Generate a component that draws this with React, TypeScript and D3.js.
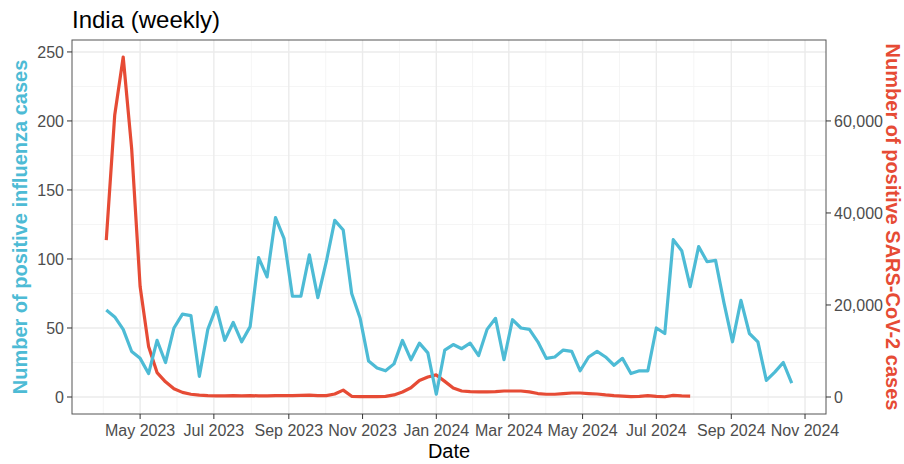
import * as d3 from "d3";

// weekly series, first week starting 2023-04-03
const firstWeek = "2023-04-03";

// positive influenza cases per week (left axis)
const fluCases = [
  63, 58, 49, 33, 28, 17, 41, 25, 50, 60, 59, 15, 49, 65, 41, 54, 40, 51, 101, 87,
  130, 115, 73, 73, 103, 72, 98, 128, 121, 75, 57, 26, 21, 19, 24, 41, 27, 39, 32, 2,
  34, 38, 35, 39, 30, 49, 57, 27, 56, 50, 49, 40, 28, 29, 34, 33, 19, 29, 33, 29,
  23, 28, 17, 19, 19, 50, 46, 114, 106, 80, 109, 98, 99, 68, 40, 70, 46, 40, 12, 18,
  25, 10,
];

// positive SARS-CoV-2 cases per week (right axis)
const covidCases = [
  34100, 61300, 73900, 54000, 24000, 11000, 5300, 3300, 1800, 1000, 600, 400, 300, 250,
  250, 300, 250, 300, 250, 250, 300, 300, 300, 350, 400, 300, 300, 650, 1500, 150,
  100, 100, 100, 150, 450, 1100, 2000, 3600, 4350, 4800, 3400, 1950, 1300, 1150, 1100,
  1100, 1150, 1300, 1300, 1300, 1100, 750, 600, 600, 750, 870, 870, 750, 650, 450,
  300, 200, 100, 150, 300, 150, 50, 350, 250, 200,
];

const leftTicks = [0, 50, 100, 150, 200, 250];
const rightTicks = [0, 20000, 40000, 60000];
const monthTicks = [
  "2023-05-01", "2023-07-01", "2023-09-01", "2023-11-01", "2024-01-01",
  "2024-03-01", "2024-05-01", "2024-07-01", "2024-09-01", "2024-11-01",
];

const secFactor = 300; // SARS-CoV-2 cases per influenza unit
const fluColor = "#4DBBD5";
const covidColor = "#E64B35";
const font = "'Liberation Sans', Arial, sans-serif";

export default function App() {
  const width = 904;
  const height = 464;
  const panel = { left: 72, right: 826, top: 40, bottom: 414 };

  const parse = d3.utcParse("%Y-%m-%d");
  const start = parse(firstWeek) as Date;
  const weekDate = (i: number) => d3.utcDay.offset(start, 7 * i);

  const flu = fluCases.map((v, i) => ({ date: weekDate(i), value: v }));
  const covid = covidCases.map((v, i) => ({ date: weekDate(i), value: v / secFactor }));

  // ggplot-like 5% expansion
  const xExt = d3.extent(flu, (d) => d.date) as [Date, Date];
  const span = +xExt[1] - +xExt[0];
  const x = d3
    .scaleUtc()
    .domain([new Date(+xExt[0] - span * 0.05), new Date(+xExt[1] + span * 0.05)])
    .range([panel.left, panel.right]);

  const yMax = Math.max(d3.max(flu, (d) => d.value)!, d3.max(covid, (d) => d.value)!);
  const y = d3
    .scaleLinear()
    .domain([-yMax * 0.05, yMax * 1.05])
    .range([panel.bottom, panel.top]);

  const majorX = monthTicks.map((s) => parse(s) as Date);
  const extX = [d3.utcMonth.offset(majorX[0], -2), ...majorX, d3.utcMonth.offset(majorX[majorX.length - 1], 2)];
  const minorX = d3.pairs(extX).map(([a, b]) => new Date((+a + +b) / 2));
  const [d0, d1] = x.domain();
  const minorXIn = minorX.filter((d) => d >= d0 && d <= d1);

  const minorY = d3.pairs(leftTicks).map(([a, b]) => (a + b) / 2);

  const line = d3
    .line<{ date: Date; value: number }>()
    .x((d) => x(d.date))
    .y((d) => y(d.value));

  const fmtMonth = d3.utcFormat("%b %Y");
  const fmtComma = d3.format(",");

  return (
    <svg
      width={width}
      height={height}
      style={{ position: "absolute", left: 0, top: 0, background: "#fff" }}
      fontFamily={font}
    >
      <rect x={0} y={0} width={width} height={height} fill="#fff" />

      {/* grid */}
      <g>
        {minorY.map((v) => (
          <line key={"my" + v} x1={panel.left} x2={panel.right} y1={y(v)} y2={y(v)} stroke="#F2F2F2" strokeWidth={0.8} />
        ))}
        {minorXIn.map((d) => (
          <line key={"mx" + +d} x1={x(d)} x2={x(d)} y1={panel.top} y2={panel.bottom} stroke="#F2F2F2" strokeWidth={0.8} />
        ))}
        {leftTicks.map((v) => (
          <line key={"gy" + v} x1={panel.left} x2={panel.right} y1={y(v)} y2={y(v)} stroke="#EBEBEB" strokeWidth={1.4} />
        ))}
        {majorX.map((d) => (
          <line key={"gx" + +d} x1={x(d)} x2={x(d)} y1={panel.top} y2={panel.bottom} stroke="#EBEBEB" strokeWidth={1.4} />
        ))}
      </g>

      {/* lines */}
      <path d={line(covid) ?? ""} fill="none" stroke={covidColor} strokeWidth={3.2} strokeLinejoin="round" strokeLinecap="butt" />
      <path d={line(flu) ?? ""} fill="none" stroke={fluColor} strokeWidth={3.2} strokeLinejoin="round" strokeLinecap="butt" />

      {/* panel border */}
      <rect
        x={panel.left}
        y={panel.top}
        width={panel.right - panel.left}
        height={panel.bottom - panel.top}
        fill="none"
        stroke="#555"
        strokeWidth={1}
      />

      {/* left axis */}
      <g fontSize={16} fill="#4D4D4D">
        {leftTicks.map((v) => (
          <g key={"ly" + v}>
            <line x1={panel.left - 5} x2={panel.left} y1={y(v)} y2={y(v)} stroke="#333" strokeWidth={1} />
            <text x={panel.left - 8} y={y(v)} dy="0.36em" textAnchor="end">
              {v}
            </text>
          </g>
        ))}
      </g>

      {/* right axis (secondary) */}
      <g fontSize={16} fill="#4D4D4D">
        {rightTicks.map((v) => (
          <g key={"ry" + v}>
            <line x1={panel.right} x2={panel.right + 5} y1={y(v / secFactor)} y2={y(v / secFactor)} stroke="#333" strokeWidth={1} />
            <text x={panel.right + 8} y={y(v / secFactor)} dy="0.36em" textAnchor="start">
              {fmtComma(v)}
            </text>
          </g>
        ))}
      </g>

      {/* bottom axis */}
      <g fontSize={16} fill="#4D4D4D">
        {majorX.map((d) => (
          <g key={"bx" + +d}>
            <line x1={x(d)} x2={x(d)} y1={panel.bottom} y2={panel.bottom + 5} stroke="#333" strokeWidth={1} />
            <text x={x(d)} y={panel.bottom + 22} textAnchor="middle">
              {fmtMonth(d)}
            </text>
          </g>
        ))}
      </g>

      {/* titles */}
      <text x={panel.left} y={28} fontSize={24} fill="#000">
        India (weekly)
      </text>
      <text x={(panel.left + panel.right) / 2} y={458} fontSize={20} fill="#000" textAnchor="middle">
        Date
      </text>
      <text
        transform={`translate(27, ${(panel.top + panel.bottom) / 2}) rotate(-90)`}
        fontSize={20}
        fontWeight="bold"
        fill={fluColor}
        textAnchor="middle"
      >
        Number of positive influenza cases
      </text>
      <text
        transform={`translate(886, ${(panel.top + panel.bottom) / 2}) rotate(90)`}
        fontSize={20}
        fontWeight="bold"
        fill={covidColor}
        textAnchor="middle"
      >
        Number of positive SARS-CoV-2 cases
      </text>
    </svg>
  );
}
